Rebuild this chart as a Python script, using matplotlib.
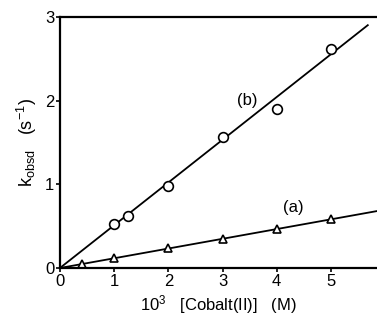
import matplotlib
matplotlib.use('Agg')
import matplotlib.pyplot as plt
import numpy as np

# datos
xb = [1.0, 1.25, 2.0, 3.0, 4.0, 5.0]
yb = [0.52, 0.62, 0.98, 1.56, 1.90, 2.62]
xa = [0.4, 1.0, 2.0, 3.0, 4.0, 5.0]
ya = [0.05, 0.12, 0.24, 0.35, 0.46, 0.59]

# rectas ajustadas
fit_b_x = [0.0, 5.68]
fit_b_y = [0.0, 2.90]
fit_a_x = [0.0, 5.85]
fit_a_y = [0.0, 0.68]

plt.rcParams['font.family'] = ['Liberation Sans', 'DejaVu Sans']
plt.rcParams['mathtext.fontset'] = 'custom'
plt.rcParams['mathtext.rm'] = 'Liberation Sans'

fig = plt.figure(figsize=(3.77, 3.2), dpi=100)
ax = fig.add_axes([0.159, 0.1625, 0.841, 0.785])

ax.plot(fit_b_x, fit_b_y, color='black', lw=1.3)
ax.plot(fit_a_x, fit_a_y, color='black', lw=1.3)
ax.plot(xb, yb, 'o', ms=7, mfc='white', mec='black', mew=1.2)
ax.plot(xa, ya, '^', ms=5.5, mfc='white', mec='black', mew=1.2)

ax.text(3.45, 2.0, '(b)', fontsize=12, ha='center', va='center')
ax.text(4.3, 0.72, '(a)', fontsize=12, ha='center', va='center')

ax.set_xlim(0, 5.85)
ax.set_ylim(0, 3)
ax.set_xticks([0, 1, 2, 3, 4, 5])
ax.set_yticks([0, 1, 2, 3])
ax.spines['right'].set_visible(False)
for s in ['left', 'bottom', 'top']:
    ax.spines[s].set_linewidth(1.6)
ax.tick_params(direction='out', length=3, width=1.2, labelsize=12, pad=1)

ax.set_xlabel(r'$\mathrm{10^3}$   [Cobalt(II)]   (M)', fontsize=12, labelpad=3)
ax.set_ylabel(r'$\mathrm{k_{obsd}}$   $\mathrm{(s^{-1})}$', fontsize=13, labelpad=4)

fig.savefig('out.png', dpi=100)
